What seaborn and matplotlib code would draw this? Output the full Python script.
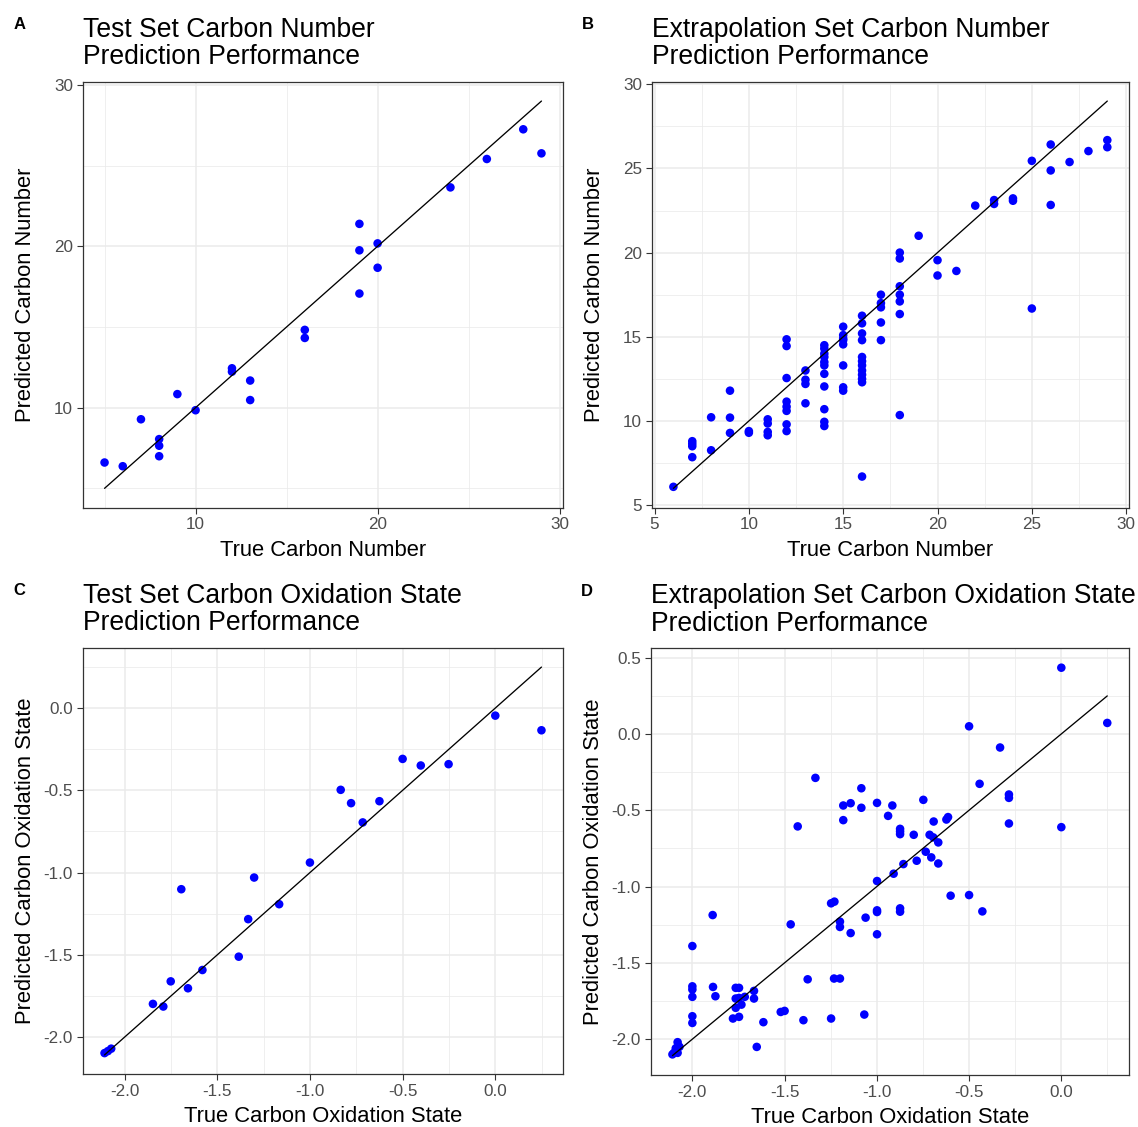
import numpy as np
import pandas as pd
import matplotlib
matplotlib.use("Agg")
import matplotlib.pyplot as plt
import seaborn as sns

# ---------------- data ----------------
# A: test set, carbon number
a_true = [5, 6, 7, 8, 8, 8, 9, 10, 12, 12, 13, 13, 16, 16,
          19, 19, 19, 20, 20, 24, 26, 28, 29]
a_pred = [6.6, 6.37, 9.28, 8.05, 7.64, 6.99, 10.84, 9.84, 12.44, 12.23, 11.68, 10.47, 14.82, 14.32,
          21.39, 19.75, 17.07, 20.18, 18.67, 23.65, 25.41, 27.25, 25.76]

# B: extrapolation set, carbon number
b_true = [6,
          7, 7, 7, 7,
          8, 8,
          9, 9, 9,
          10, 10,
          11, 11, 11, 11,
          12, 12, 12, 12, 12, 12, 12, 12,
          13, 13, 13, 13,
          14, 14, 14, 14, 14, 14, 14, 14, 14, 14, 14,
          15, 15, 15, 15, 15, 15, 15, 15,
          16, 16, 16, 16, 16, 16, 16, 16, 16, 16, 16, 16,
          17, 17, 17, 17, 17,
          18, 18, 18, 18, 18, 18, 18,
          19, 20, 20, 21, 22, 23, 23, 24, 24,
          25, 25, 26, 26, 26, 27, 28, 29, 29]
b_pred = [6.09,
          8.8, 8.65, 8.5, 7.85,
          10.22, 8.26,
          11.8, 10.2, 9.29,
          9.4, 9.3,
          10.1, 9.85, 9.35, 9.15,
          14.85, 14.45, 12.55, 11.15, 10.85, 10.6, 9.8, 9.4,
          13.0, 12.45, 12.2, 11.05,
          14.5, 14.3, 14.0, 13.8, 13.5, 13.3, 12.8, 12.05, 10.7, 9.95, 9.7,
          15.6, 15.1, 14.9, 14.8, 14.55, 13.3, 12.0, 11.8,
          16.25, 15.8, 15.2, 14.8, 13.8, 13.55, 13.3, 13.0, 12.75, 12.5, 12.3, 6.7,
          17.5, 17.0, 16.75, 15.85, 14.8,
          20.0, 19.65, 18.0, 17.5, 17.1, 16.35, 10.35,
          21.0, 19.55, 18.64, 18.91, 22.79, 23.12, 22.89, 23.22, 23.08,
          25.45, 16.68, 26.42, 24.88, 22.83, 25.38, 26.03, 26.68, 26.26]

# C: test set, carbon oxidation state
c_true = [-2.108, -2.09, -2.072, -1.847, -1.791, -1.751, -1.694, -1.658, -1.58, -1.384,
          -1.333, -1.301, -1.166, -1.0, -0.834, -0.778, -0.715, -0.625, -0.5, -0.402,
          -0.252, 0.0, 0.249]
c_pred = [-2.097, -2.085, -2.07, -1.798, -1.814, -1.661, -1.101, -1.703, -1.592, -1.511,
          -1.283, -1.03, -1.192, -0.939, -0.497, -0.578, -0.695, -0.566, -0.309, -0.349,
          -0.341, -0.046, -0.135]

# D: extrapolation set, carbon oxidation state
d_true = [0.0, 0.249, -0.5, -0.332, -0.443, -0.284, -0.284, -0.284, 0.0,
          -1.333, -1.084, -1.182, -1.142, -1.084, -0.999, -0.916, -0.748, -0.939, -1.182,
          -1.429, -0.692, -0.623, -0.614, -0.874, -0.874, -0.874, -0.8, -0.714, -0.694,
          -0.667, -0.735, -0.705, -0.667, -0.784, -0.856, -0.909, -0.999, -0.6, -0.5,
          -0.428, -0.874, -0.874, -0.999, -0.999, -1.061, -0.999, -1.142, -1.2, -1.2,
          -1.248, -1.23, -1.467, -1.89, -2.0, -2.0, -2.0, -2.0, -2.0, -2.0,
          -1.888, -1.875, -1.765, -1.747, -1.765, -1.747, -1.716, -1.734, -1.765, -1.78,
          -1.747, -1.666, -1.666, -1.615, -1.651, -1.521, -1.5, -1.375, -1.398, -1.248,
          -1.232, -1.2, -1.068,
          -2.08, -2.09, -2.07, -2.108, -2.1, -2.08]
d_pred = [0.434, 0.072, 0.05, -0.089, -0.327, -0.397, -0.419, -0.587, -0.611,
          -0.288, -0.356, -0.469, -0.454, -0.484, -0.452, -0.469, -0.432, -0.537, -0.565,
          -0.606, -0.574, -0.561, -0.545, -0.622, -0.639, -0.657, -0.661, -0.661, -0.678,
          -0.711, -0.772, -0.809, -0.849, -0.831, -0.853, -0.916, -0.964, -1.06, -1.056,
          -1.163, -1.143, -1.165, -1.156, -1.167, -1.204, -1.313, -1.305, -1.23, -1.265,
          -1.11, -1.099, -1.248, -1.187, -1.39, -1.654, -1.675, -1.723, -1.85, -1.894,
          -1.658, -1.719, -1.664, -1.664, -1.734, -1.73, -1.723, -1.774, -1.795, -1.865,
          -1.854, -1.684, -1.734, -1.889, -2.051, -1.822, -1.815, -1.608, -1.876, -1.865,
          -1.603, -1.603, -1.839,
          -2.02, -2.06, -2.05, -2.1, -2.09, -2.09]

titles = ["Test Set Carbon Number", "Extrapolation Set Carbon Number",
          "Test Set Carbon Oxidation State", "Extrapolation Set Carbon Oxidation State"]
subtitle = "Prediction Performance"
tags = ["A", "B", "C", "D"]
x_labels = ["True Carbon Number", "True Carbon Number",
            "True Carbon Oxidation State", "True Carbon Oxidation State"]
y_labels = ["Predicted Carbon Number", "Predicted Carbon Number",
            "Predicted Carbon Oxidation State", "Predicted Carbon Oxidation State"]

num_ticks_a = [10, 20, 30]
num_ticks_b = [5, 10, 15, 20, 25, 30]
ox_ticks = [-2.0, -1.5, -1.0, -0.5, 0.0]
ox_ticks_d = [-2.0, -1.5, -1.0, -0.5, 0.0, 0.5]

# ---------------- style ----------------
sns.set_theme(style="white")
plt.rcParams["font.family"] = ["Liberation Sans", "DejaVu Sans"]
plt.rcParams["axes.unicode_minus"] = False

W, H = 1138, 1127
fig = plt.figure(figsize=(W / 100, H / 100), dpi=100)

# panel boxes in pixels: left, top, right, bottom
boxes = [(82.7, 81.7, 563.3, 507.7),
         (651.7, 81.7, 1129.0, 507.7),
         (82.7, 647.7, 563.3, 1074.3),
         (650.7, 648.3, 1129.0, 1075.0)]

panels = [
    (a_true, a_pred, num_ticks_a, num_ticks_a, "{:.0f}"),
    (b_true, b_pred, num_ticks_b, num_ticks_b, "{:.0f}"),
    (c_true, c_pred, ox_ticks, ox_ticks, "{:.1f}"),
    (d_true, d_pred, ox_ticks, ox_ticks_d, "{:.1f}"),
]

grey_text = "#4D4D4D"
border = "#333333"

for i, (xt, yp, xticks, yticks, fmt) in enumerate(panels):
    l, t, r, b = boxes[i]
    ax = fig.add_axes([l / W, 1 - b / H, (r - l) / W, (b - t) / H])
    df = pd.DataFrame({"true": xt, "pred": yp})
    lo, hi = min(xt), max(xt)
    ref = pd.DataFrame({"true": [lo, hi], "pred": [lo, hi]})

    sns.scatterplot(data=df, x="true", y="pred", color="#0000FF", s=38,
                    edgecolor="none", linewidth=0, ax=ax, zorder=3)
    sns.lineplot(data=ref, x="true", y="pred", color="black", linewidth=0.95,
                 estimator=None, ax=ax, zorder=4)

    # axis limits with 5% expansion on both sides
    xlo, xhi = lo, hi
    ylo, yhi = min(min(yp), lo), max(max(yp), hi)
    dx, dy = 0.05 * (xhi - xlo), 0.05 * (yhi - ylo)

    ax.set_xticks(xticks)
    ax.set_yticks(yticks)
    ax.set_xticklabels([fmt.format(v) for v in xticks])
    ax.set_yticklabels([fmt.format(v) for v in yticks])
    step_x = xticks[1] - xticks[0]
    step_y = yticks[1] - yticks[0]
    ax.set_xticks(np.arange(xticks[0] - step_x / 2, xticks[-1] + step_x, step_x), minor=True)
    ax.set_yticks(np.arange(yticks[0] - step_y / 2, yticks[-1] + step_y, step_y), minor=True)
    ax.set_xlim(xlo - dx, xhi + dx)
    ax.set_ylim(ylo - dy, yhi + dy)

    ax.grid(which="major", color="#EBEBEB", linewidth=1.1, zorder=0)
    ax.grid(which="minor", color="#EBEBEB", linewidth=0.55, zorder=0)
    ax.set_axisbelow(True)
    ax.tick_params(which="major", length=4, width=0.8, color=border,
                   labelsize=12.3, labelcolor=grey_text, pad=3)
    ax.tick_params(which="minor", length=0)
    ax.tick_params(axis="x", which="major", bottom=True)
    ax.tick_params(axis="y", which="major", left=True)
    for sp in ax.spines.values():
        sp.set_color(border)
        sp.set_linewidth(0.9)
    ax.set_xlabel("")
    ax.set_ylabel("")

    # titles, tags, axis labels
    fig.text(l / W, 1 - (t - 45.0) / H, titles[i], fontsize=19.1, ha="left",
             va="baseline", color="black")
    fig.text(l / W, 1 - (t - 17.7) / H, subtitle, fontsize=19.1, ha="left",
             va="baseline", color="black")
    fig.text((l - 69.5) / W, 1 - (t - 52.4) / H, tags[i], fontsize=12,
             fontweight="bold", ha="left", va="baseline", color="black")
    fig.text((l + r) / 2 / W, 1 - (b + 48.0) / H, x_labels[i], fontsize=15.8,
             ha="center", va="baseline", color="black")
    fig.text((l - 57.3) / W, 1 - (t + b) / 2 / H, y_labels[i], fontsize=15.8,
             rotation=90, ha="center", va="center", color="black")

fig.savefig("out.png", dpi=100, facecolor="white")
